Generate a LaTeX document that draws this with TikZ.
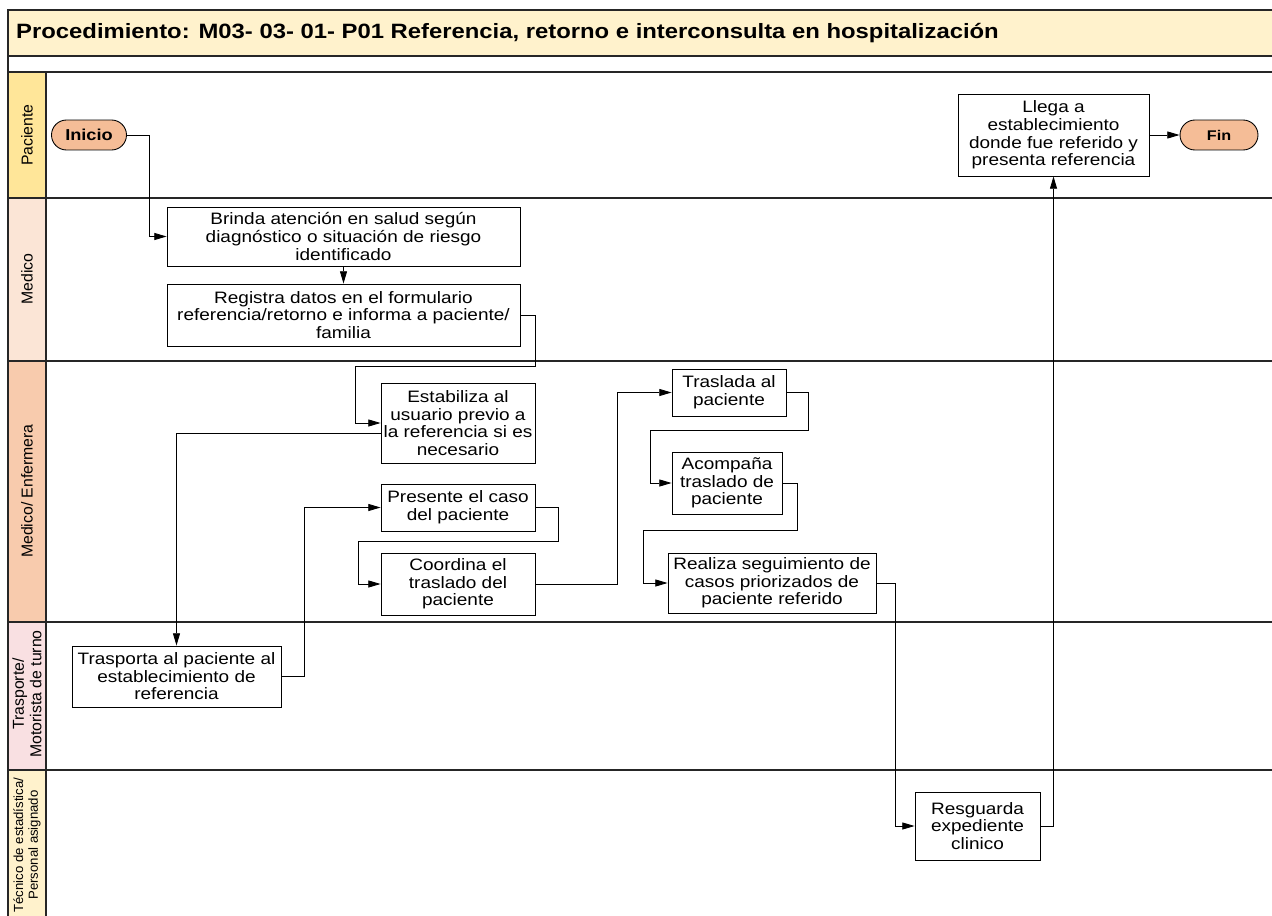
\documentclass[tikz,border=0pt]{standalone}
\usepackage{fontspec}
\setmainfont{Liberation Sans}
\newfontfamily\ancho[FakeStretch=1.15]{Liberation Sans}
\usetikzlibrary{arrows.meta}

\definecolor{cTitulo}{HTML}{FFF2CC}
\definecolor{cPaciente}{HTML}{FFE699}
\definecolor{cMedico}{HTML}{FBE5D6}
\definecolor{cEnfermera}{HTML}{F8CBAD}
\definecolor{cTrasporte}{HTML}{F9E0E2}
\definecolor{cTecnico}{HTML}{FFF2CC}
\definecolor{cTerminal}{HTML}{F5BD97}

\begin{document}
\begin{tikzpicture}[x=0.02cm, y=-0.02cm,
                carril/.style={draw=black!85, line width=0.8pt},
                etiqueta/.style={rotate=90, align=center, font=\fontsize{9}{10}\selectfont},
                paso/.style={draw, rectangle, fill=white, line width=0.5pt, inner sep=1pt, align=center, font=\ancho\fontsize{9.4}{10}\selectfont},
                terminal/.style={draw, rectangle, rounded corners=0.3cm, fill=cTerminal, line width=0.5pt, minimum height=0.6cm, font=\ancho\bfseries\fontsize{9}{10}\selectfont},
                flecha/.style={-{Triangle[length=7pt, width=4pt]}, line width=0.5pt}]

                \useasboundingbox (0,0) rectangle (1272,916);

                % titulo y carriles
                \draw[carril, fill=cTitulo] (8,10) rectangle (1290,56);
                \draw[carril] (8,56) rectangle (1290,72);
                \node[anchor=west, font=\ancho\bfseries\fontsize{11.8}{14}\selectfont] (titulo) at (10,33) {Procedimiento: M03- 03- 01- P01 Referencia, retorno e interconsulta en hospitalización};

                \draw[carril, fill=cPaciente] (8,72) rectangle (46,198);
                \draw[carril, fill=cMedico] (8,198) rectangle (46,361);
                \draw[carril, fill=cEnfermera] (8,361) rectangle (46,622);
                \draw[carril, fill=cTrasporte] (8,622) rectangle (46,770);
                \draw[carril, fill=cTecnico] (8,770) rectangle (46,930);
                \draw[carril] (46,72) rectangle (1290,198);
                \draw[carril] (46,198) rectangle (1290,361);
                \draw[carril] (46,361) rectangle (1290,622);
                \draw[carril] (46,622) rectangle (1290,770);
                \draw[carril] (46,770) rectangle (1290,930);

                \node[etiqueta] (lPaciente) at (27,135) {Paciente};
                \node[etiqueta] (lMedico) at (27,279) {Medico};
                \node[etiqueta] (lEnfermera) at (27,491) {Medico/ Enfermera};
                \node[etiqueta] (lTrasporte) at (27,694) {Trasporte/\\Motorista de turno};
                \node[etiqueta, font=\fontsize{7.5}{8.5}\selectfont] (lTecnico) at (27,845) {Técnico de estadística/\\Personal asignado};

                % pasos
                \node[terminal, minimum width=1.5cm] (inicio) at (89,135) {Inicio};
                \node[terminal, minimum width=1.56cm, font=\ancho\bfseries\fontsize{8}{10}\selectfont] (fin) at (1219,135) {Fin};
                \node[paso, minimum width=3.82cm, minimum height=1.64cm] (llega) at (1053.5,135) {Llega a\\establecimiento\\donde fue referido y\\presenta referencia};

                \node[paso, minimum width=7.06cm, minimum height=1.18cm] (brinda) at (343.5,236.5) {Brinda atención en salud según\\diagnóstico o situación de riesgo\\identificado};
                \node[paso, minimum width=7.06cm, minimum height=1.24cm] (registra) at (343.5,315) {Registra datos en el formulario\\referencia/retorno e informa a paciente/\\familia};

                \node[paso, minimum width=3.08cm, minimum height=1.6cm] (estabiliza) at (458,423) {Estabiliza al\\usuario previo a\\la referencia si es\\necesario};
                \node[paso, minimum width=3.08cm, minimum height=0.94cm] (presente) at (458,507.5) {Presente el caso\\del paciente};
                \node[paso, minimum width=3.08cm, minimum height=1.24cm] (coordina) at (458,584) {Coordina el\\traslado del\\paciente};

                \node[paso, minimum width=2.28cm, minimum height=0.94cm] (traslada) at (729,392.5) {Traslada al\\paciente};
                \node[paso, minimum width=2.2cm, minimum height=1.24cm] (acompana) at (727,483) {Acompaña\\traslado de\\paciente};
                \node[paso, minimum width=4.16cm, minimum height=1.2cm] (realiza) at (772,583) {Realiza seguimiento de\\casos priorizados de\\paciente referido};

                \node[paso, minimum width=4.18cm, minimum height=1.22cm] (trasporta) at (176.5,676.5) {Trasporta al paciente al\\establecimiento de\\referencia};
                \node[paso, minimum width=2.5cm, minimum height=1.36cm] (resguarda) at (977.5,826) {Resguarda\\expediente\\clinico};

                % conectores
                \draw[flecha] (inicio.east) -- ++(23,0) |- (brinda.west);
                \draw[flecha] (brinda.south) -- (registra.north);
                \draw[flecha] (registra.east) -- ++(15,0) -- ++(0,51) -- ++(-180,0) |- (estabiliza.west);
                \draw[flecha] ([yshift=-0.2cm]estabiliza.west) -| (trasporta.north);
                \draw[flecha] (trasporta.east) -- ++(23,0) |- (presente.west);
                \draw[flecha] (presente.east) -- ++(23,0) -- ++(0,34) -- ++(-200,0) |- (coordina.west);
                \draw[flecha] (coordina.east) -- ++(82,0) |- (traslada.west);
                \draw[flecha] (traslada.east) -- ++(22,0) -- ++(0,38) -- ++(-158,0) |- (acompana.west);
                \draw[flecha] (acompana.east) -- ++(15,0) -- ++(0,47) -- ++(-154,0) |- (realiza.west);
                \draw[flecha] (realiza.east) -- ++(19,0) |- (resguarda.west);
                \draw[flecha] (resguarda.east) -| (llega.south);
                \draw[flecha] (llega) -- (fin);
            \end{tikzpicture}
\end{document}
